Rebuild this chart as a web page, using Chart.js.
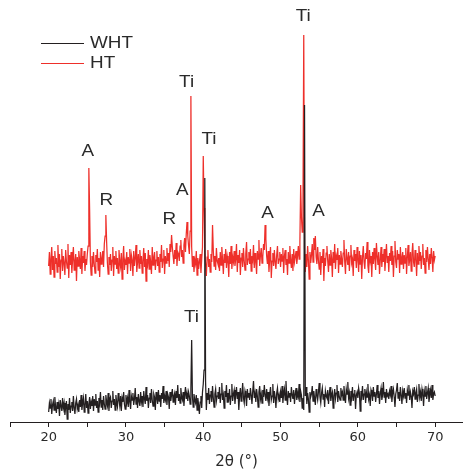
<!DOCTYPE html>
<html>
<head>
<meta charset="utf-8">
<script src="https://cdn.jsdelivr.net/npm/chart.js@4.4.1/dist/chart.umd.min.js"></script>
<style>
  html, body { margin: 0; padding: 0; background: #fff; }
</style>
</head>
<body>
<canvas id="xrd" width="463" height="471"></canvas>
<script>
"use strict";

// 2theta scan: 20 to 70 deg, one reading every 0.1 deg
var scanStart = 20;
var scanStep = 0.1;

var seriesNames = ["WHT", "HT"];

// intensities (arb. units), one row = 2 deg
var wht = [
  10, 19, 14, 23, 8, 17, 21, 12, 25, 15, 9, 20, 13, 18, 6, 22, 16, 11, 24, 14,
  19, 7, 15, 21, 3, 18, 12, 24, 9, 16, 20, 11, 26, 14, 8, 19, 23, 13, 17, 10,
  22, 15, 27, 12, 19, 24, 10, 17, 28, 14, 21, 9, 18, 25, 13, 20, 16, 26, 11, 23,
  17, 28, 14, 21, 10, 24, 19, 30, 15, 22, 12, 26, 18, 13, 27, 20, 16, 29, 11, 23,
  25, 14, 21, 31, 17, 23, 12, 27, 19, 15, 29, 22, 16, 26, 11, 24, 20, 30, 18, 13,
  27, 19, 24, 15, 32, 20, 13, 26, 22, 29, 17, 23, 34, 18, 25, 14, 28, 21, 16, 30,
  20, 26, 15, 31, 23, 18, 35, 21, 27, 14, 24, 29, 19, 33, 22, 16, 28, 25, 12, 30,
  24, 18, 32, 21, 27, 15, 29, 23, 36, 19, 26, 22, 31, 17, 28, 25, 13, 30, 21, 27,
  33, 20, 26, 29, 17, 31, 24, 37, 21, 28, 19, 34, 25, 22, 30, 16, 27, 35, 23, 29,
  21, 30, 26, 18, 33, 82, 25, 15, 28, 22, 19, 27, 12, 24, 17, 8, 20, 26, 14, 30,
  38, 52, 244, 40, 12, 29, 22, 34, 18, 27, 31, 20, 36, 24, 15, 28, 33, 21, 26, 30,
  23, 35, 19, 28, 39, 22, 27, 14, 31, 25, 37, 20, 29, 24, 33, 17, 26, 38, 21, 28,
  32, 18, 27, 35, 23, 30, 12, 26, 34, 21, 28, 39, 24, 19, 31, 27, 16, 33, 25, 29,
  22, 34, 27, 18, 31, 41, 24, 29, 20, 33, 26, 15, 30, 36, 23, 28, 19, 32, 25, 37,
  27, 21, 33, 24, 30, 16, 28, 35, 22, 26, 38, 19, 31, 25, 14, 29, 34, 23, 27, 20,
  30, 24, 36, 19, 28, 33, 22, 41, 26, 17, 31, 25, 29, 20, 35, 27, 23, 32, 18, 28,
  34, 22, 29, 25, 38, 20, 31, 27, 14, 24, 12, 317, 26, 35, 18, 29, 23, 10, 30, 25,
  28, 36, 21, 31, 24, 17, 33, 27, 22, 30, 39, 25, 19, 29, 34, 23, 28, 15, 31, 26,
  24, 32, 18, 28, 35, 21, 27, 30, 14, 26, 33, 23, 29, 37, 20, 31, 25, 22, 34, 27,
  30, 22, 36, 26, 19, 33, 28, 40, 24, 29, 17, 31, 25, 35, 21, 28, 32, 13, 27, 30,
  24, 34, 29, 11, 31, 26, 36, 22, 28, 33, 19, 30, 25, 38, 23, 27, 16, 32, 29, 21,
  35, 26, 30, 20, 28, 37, 24, 31, 18, 29, 34, 22, 27, 40, 25, 30, 19, 33, 26, 28,
  23, 31, 27, 36, 20, 29, 33, 25, 15, 28, 32, 39, 24, 30, 21, 35, 27, 18, 31, 26,
  34, 24, 29, 19, 32, 27, 37, 22, 30, 26, 14, 31, 28, 35, 23, 29, 33, 20, 27, 38,
  25, 30, 21, 33, 28, 16, 31, 26, 36, 23, 29, 34, 20, 27, 32, 24, 37, 22, 28, 30,
  26
];

var ht = [
  156, 170, 148, 163, 175, 152, 166, 145, 171, 158, 164, 150, 177, 155, 168, 143, 162, 173, 151, 166,
  159, 147, 172, 161, 154, 178, 144, 167, 157, 170, 149, 163, 175, 152, 160, 168, 141, 165, 156, 171,
  162, 153, 174, 148, 166, 159, 171, 151, 163, 157, 168, 176, 254, 212, 160, 147, 166, 155, 170, 158,
  149, 167, 160, 173, 152, 164, 145, 170, 158, 163, 171, 155, 178, 186, 207, 180, 159, 148, 165, 157,
  168, 151, 162, 175, 146, 166, 158, 171, 153, 164, 149, 172, 160, 155, 169, 143, 163, 176, 152, 161,
  157, 170, 148, 165, 159, 173, 151, 167, 162, 146, 171, 156, 164, 177, 150, 160, 168, 154, 172, 158,
  166, 149, 161, 174, 155, 169, 141, 163, 158, 172, 153, 167, 160, 148, 175, 157, 164, 170, 152, 162,
  171, 156, 165, 150, 168, 160, 177, 154, 163, 172, 148, 166, 159, 174, 161, 169, 155, 178, 170, 187,
  175, 166, 158, 172, 163, 179, 156, 170, 168, 161, 176, 182, 165, 172, 159, 177, 184, 170, 188, 200,
  186, 176, 168, 191, 326, 175, 155, 166, 150, 162, 158, 171, 147, 164, 153, 160, 168, 149, 163, 175,
  266, 214, 170, 158, 146, 165, 172, 155, 163, 150, 168, 160, 197, 171, 156, 166, 152, 174, 161, 158,
  164, 151, 170, 157, 175, 162, 148, 168, 159, 173, 154, 166, 161, 145, 170, 158, 176, 153, 165, 160,
  171, 156, 163, 178, 150, 167, 159, 172, 147, 164, 169, 155, 174, 161, 152, 168, 180, 157, 163, 170,
  158, 173, 151, 166, 162, 177, 154, 169, 160, 148, 171, 163, 182, 156, 167, 174, 159, 165, 178, 172,
  197, 183, 166, 158, 171, 150, 164, 175, 144, 161, 169, 156, 172, 160, 153, 167, 176, 158, 163, 170,
  155, 168, 161, 174, 149, 166, 172, 157, 163, 147, 170, 159, 176, 162, 154, 168, 151, 173, 160, 165,
  171, 158, 166, 176, 163, 180, 237, 205, 190, 216, 387, 174, 150, 168, 155, 176, 162, 143, 170, 159,
  167, 178, 160, 184, 172, 186, 165, 158, 175, 162, 153, 170, 147, 166, 159, 173, 141, 164, 156, 169,
  176, 161, 150, 168, 157, 172, 164, 145, 170, 159, 178, 153, 166, 162, 174, 149, 167, 158, 171, 163,
  155, 169, 182, 160, 148, 173, 164, 157, 170, 151, 166, 177, 159, 163, 146, 172, 161, 168, 154, 175,
  162, 150, 171, 158, 167, 143, 165, 176, 160, 153, 169, 163, 180, 156, 149, 172, 161, 166, 145, 170,
  158, 174, 163, 152, 179, 166, 157, 170, 148, 162, 175, 155, 168, 160, 173, 151, 164, 178, 159, 166,
  150, 169, 161, 176, 157, 171, 145, 166, 181, 160, 154, 172, 163, 168, 149, 175, 158, 164, 170, 153,
  167, 159, 174, 148, 165, 177, 156, 162, 170, 151, 168, 179, 160, 155, 172, 163, 146, 169, 158, 176,
  161, 170, 153, 166, 178, 157, 164, 149, 172, 160, 175, 163, 152, 168, 158, 174, 165, 150, 171, 162,
  166
];

// phase labels over the peaks
var peakText = ["A", "R", "R", "A", "Ti", "Ti", "A", "Ti", "A", "Ti"];
var peakAngle = [25.05, 27.47, 35.6, 37.3, 37.84, 40.73, 48.3, 52.94, 54.9, 38.48];
var peakHeight = [270, 221, 202, 231, 339, 282, 208, 405, 210, 104];

var xTicks = [20, 30, 40, 50, 60, 70];
var xMinorTicks = [15, 25, 35, 45, 55, 65];

var lineColors = ["#231f20", "#ee2f2a"];
var textColor = "#2a2a2a";

function toPoints(values) {
  var pts = [];
  for (var i = 0; i < values.length; i++) {
    pts.push({ x: +(scanStart + i * scanStep).toFixed(1), y: values[i] });
  }
  return pts;
}

// the original figure is a bit stretched sideways, so text is widened a little
function wideText(ctx, str, x, y, align) {
  ctx.save();
  ctx.translate(x, y);
  ctx.scale(1.18, 1);
  ctx.textAlign = align;
  ctx.textBaseline = "middle";
  ctx.fillText(str, 0, 0);
  ctx.restore();
}

var peakLabels = {
  id: "peakLabels",
  afterDatasetsDraw: function (chart) {
    var ctx = chart.ctx;
    var xs = chart.scales.x, ys = chart.scales.y;
    ctx.save();
    ctx.fillStyle = textColor;
    ctx.font = "16px 'Liberation Sans', Arial, sans-serif";
    for (var i = 0; i < peakText.length; i++) {
      wideText(ctx, peakText[i], xs.getPixelForValue(peakAngle[i]), ys.getPixelForValue(peakHeight[i]), "center");
    }
    ctx.restore();
  }
};

var lineLegend = {
  id: "lineLegend",
  afterDraw: function (chart) {
    var ctx = chart.ctx;
    ctx.save();
    ctx.font = "16px 'Liberation Sans', Arial, sans-serif";
    for (var i = 0; i < seriesNames.length; i++) {
      var y = 43.5 + i * 20;
      ctx.strokeStyle = lineColors[i];
      ctx.lineWidth = 1;
      ctx.beginPath();
      ctx.moveTo(41, y);
      ctx.lineTo(84, y);
      ctx.stroke();
      ctx.fillStyle = textColor;
      wideText(ctx, seriesNames[i], 90, y, "left");
    }
    ctx.restore();
  }
};

var ctx = document.getElementById("xrd").getContext("2d");
var xrdChart = new Chart(ctx, {
  type: "line",
  data: {
    datasets: [{
      label: seriesNames[0],
      data: toPoints(wht),
      borderColor: lineColors[0],
      borderWidth: 1.25,
      pointRadius: 0,
      tension: 0
    }, {
      label: seriesNames[1],
      data: toPoints(ht),
      borderColor: lineColors[1],
      borderWidth: 1.25,
      pointRadius: 0,
      tension: 0
    }]
  },
  options: {
    responsive: false,
    animation: false,
    devicePixelRatio: 1,
    layout: { padding: { left: 10, right: 0, top: 0, bottom: 0 } },
    plugins: {
      legend: { display: false },
      tooltip: { enabled: false }
    },
    scales: {
      x: {
        type: "linear",
        min: 15,
        max: 73.6,
        afterBuildTicks: function (scale) {
          scale.ticks = xMinorTicks.concat(xTicks).sort(function (a, b) { return a - b; })
            .map(function (v) { return { value: v }; });
        },
        afterFit: function (scale) { scale.height = 49; },
        border: { display: true, color: "#231f20", width: 1 },
        grid: { drawOnChartArea: false, drawTicks: true, tickLength: 5, color: "#231f20" },
        ticks: {
          padding: 3,
          maxRotation: 0,
          autoSkip: false,
          color: textColor,
          font: { family: "'DejaVu Sans', sans-serif", size: 13 },
          callback: function (v) { return xTicks.indexOf(v) >= 0 ? String(v) : ""; }
        },
        title: {
          display: true,
          text: "2θ (°)",
          color: textColor,
          padding: { top: 0, bottom: 0 },
          font: { family: "'DejaVu Sans', sans-serif", size: 15 }
        }
      },
      y: {
        display: false,
        min: 0,
        max: 422
      }
    }
  },
  plugins: [peakLabels, lineLegend]
});
</script>
</body>
</html>
